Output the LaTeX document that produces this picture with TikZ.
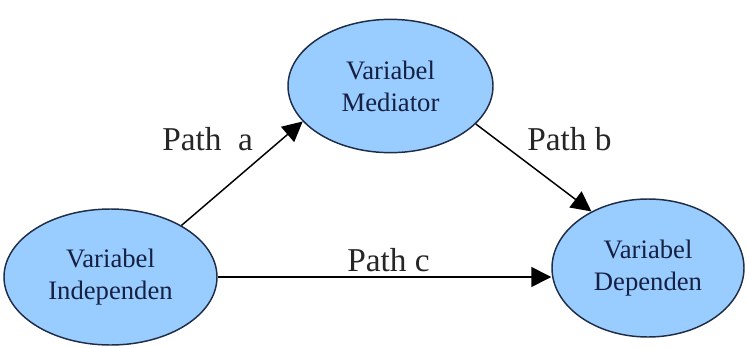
\documentclass[tikz,border=0pt]{standalone}
\usepackage{fontspec}
\setmainfont{Liberation Serif}
\usetikzlibrary{shapes.geometric}
\usetikzlibrary{arrows.meta}

\definecolor{varfill}{RGB}{153,204,255}
\definecolor{vardraw}{RGB}{31,45,70}
\definecolor{vartext}{RGB}{22,32,66}

\tikzset{
  varnode/.style={ellipse, draw=vardraw, line width=1.1pt, fill=varfill, inner sep=0pt, align=center, text=vartext, font=\fontsize{20}{24}\selectfont},
  pathline/.style={line width=1.1pt, -{Triangle[length=15pt,width=15pt]}},
  pathlabel/.style={anchor=base west, inner sep=0pt, text=black!85, font=\fontsize{25}{30}\selectfont}
}

\begin{document}
\begin{tikzpicture}[x=0.75pt,y=0.75pt,yscale=-1,xscale=1]
\useasboundingbox (0,0) rectangle (747,347);

%Shape: Ellipse [independen]
\node [varnode, minimum width=159.75pt, minimum height=102pt] (indep) at (110.5,277) {Variabel\\Independen};
%Shape: Ellipse [mediator]
\node [varnode, minimum width=153.75pt, minimum height=100pt] (medi) at (390.5,86) {Variabel\\Mediator};
%Shape: Ellipse [dependen]
\node [varnode, minimum width=144pt, minimum height=103.5pt] (depend) at (648,268) {Variabel\\Dependen};

%Straight Lines [path a]
\draw [pathline] (indep.36.9) -- (medi.202.6) ;
%Straight Lines [path b]
\draw [pathline] (medi.336.8) -- (depend.135) ;
%Straight Lines [path c]
\draw [pathline] (indep.east) -- (indep.east -| depend.west) ;

% Text Node
\node [pathlabel] (labela) at (162,150) {Path\ \ a};
% Text Node
\node [pathlabel] (labelb) at (527,150) {Path b};
% Text Node
\node [pathlabel] (labelc) at (347,271) {Path c};

\end{tikzpicture}
\end{document}
